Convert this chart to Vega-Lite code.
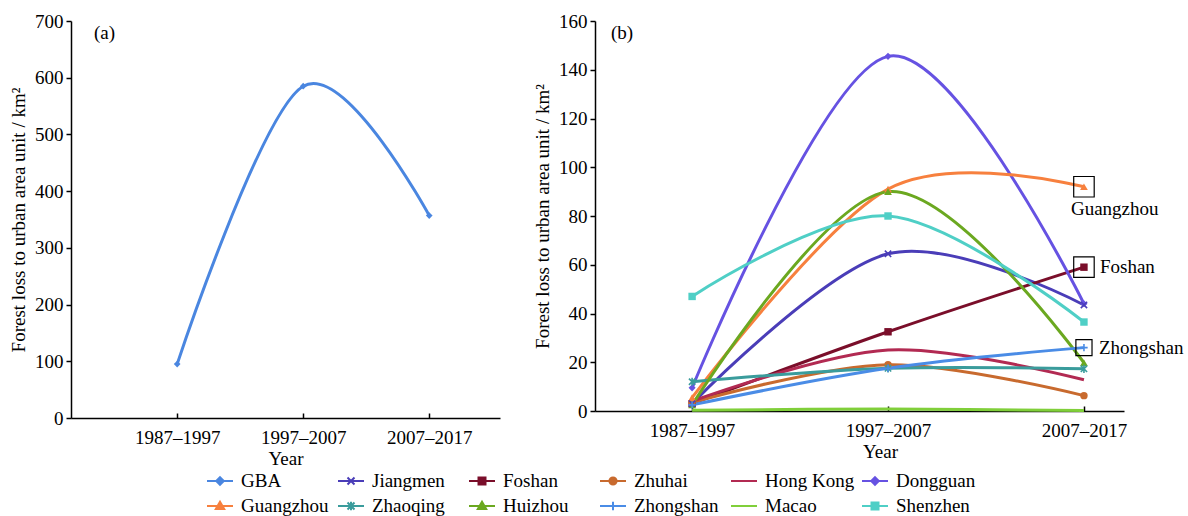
{
  "$schema": "https://vega.github.io/schema/vega-lite/v6.json",
  "background": "white",
  "padding": {"left": 9, "top": 12, "right": 4, "bottom": 4},
  "config": {
    "view": {"stroke": null},
    "font": "Liberation Serif",
    "axis": {
      "grid": false,
      "domainColor": "black",
      "domainWidth": 1.5,
      "tickColor": "black",
      "tickWidth": 1.5,
      "labelColor": "black",
      "titleColor": "black",
      "labelFont": "Liberation Serif",
      "titleFont": "Liberation Serif",
      "labelFontSize": 19,
      "titleFontSize": 19,
      "titleFontWeight": "normal"
    },
    "axisX": {"tickSize": -5, "labelAngle": 0, "labelPadding": 15, "titlePadding": 2},
    "axisY": {"tickSize": 5, "labelPadding": 3, "titlePadding": 6},
    "title": {"font": "Liberation Serif", "fontSize": 19, "fontWeight": "normal", "color": "black", "anchor": "start", "frame": "group", "offset": 0},
    "legend": {
      "orient": "none",
      "legendX": 138,
      "legendY": 449,
      "direction": "horizontal",
      "columns": 6,
      "gridAlign": "all",
      "symbolSize": 400,
      "symbolStrokeWidth": 2,
      "labelFont": "Liberation Serif",
      "labelFontSize": 19,
      "labelColor": "black",
      "labelOffset": 10,
      "columnPadding": 3,
      "rowPadding": 4
    }
  },
  "datasets": {
    "gba": [
      {"city": "GBA", "period": "1987–1997", "value": 95},
      {"city": "GBA", "period": "1997–2007", "value": 585},
      {"city": "GBA", "period": "2007–2017", "value": 357}
    ],
    "cities": [
      {"city": "Jiangmen", "period": "1987–1997", "value": 3},
      {"city": "Jiangmen", "period": "1997–2007", "value": 64.5},
      {"city": "Jiangmen", "period": "2007–2017", "value": 43.5},
      {"city": "Foshan", "period": "1987–1997", "value": 3},
      {"city": "Foshan", "period": "1997–2007", "value": 32.5},
      {"city": "Foshan", "period": "2007–2017", "value": 59},
      {"city": "Zhuhai", "period": "1987–1997", "value": 3.5},
      {"city": "Zhuhai", "period": "1997–2007", "value": 19},
      {"city": "Zhuhai", "period": "2007–2017", "value": 6.3},
      {"city": "Hong Kong", "period": "1987–1997", "value": 4},
      {"city": "Hong Kong", "period": "1997–2007", "value": 25},
      {"city": "Hong Kong", "period": "2007–2017", "value": 12.8},
      {"city": "Dongguan", "period": "1987–1997", "value": 9.5},
      {"city": "Dongguan", "period": "1997–2007", "value": 145.5},
      {"city": "Dongguan", "period": "2007–2017", "value": 44},
      {"city": "Guangzhou", "period": "1987–1997", "value": 5.5},
      {"city": "Guangzhou", "period": "1997–2007", "value": 91},
      {"city": "Guangzhou", "period": "2007–2017", "value": 92},
      {"city": "Zhaoqing", "period": "1987–1997", "value": 12},
      {"city": "Zhaoqing", "period": "1997–2007", "value": 17.5},
      {"city": "Zhaoqing", "period": "2007–2017", "value": 17.3},
      {"city": "Huizhou", "period": "1987–1997", "value": 2.5},
      {"city": "Huizhou", "period": "1997–2007", "value": 90},
      {"city": "Huizhou", "period": "2007–2017", "value": 19.8},
      {"city": "Zhongshan", "period": "1987–1997", "value": 2.5},
      {"city": "Zhongshan", "period": "1997–2007", "value": 17.5},
      {"city": "Zhongshan", "period": "2007–2017", "value": 26},
      {"city": "Macao", "period": "1987–1997", "value": 0.3},
      {"city": "Macao", "period": "1997–2007", "value": 0.8},
      {"city": "Macao", "period": "2007–2017", "value": 0.2},
      {"city": "Shenzhen", "period": "1987–1997", "value": 47},
      {"city": "Shenzhen", "period": "1997–2007", "value": 80},
      {"city": "Shenzhen", "period": "2007–2017", "value": 36.5}
    ]
  },
  "spacing": 33,
  "resolve": {"scale": {"color": "shared", "shape": "shared"}},
  "hconcat": [
    {
      "width": 429,
      "height": 397,
      "title": {"text": "(a)", "dx": 23, "dy": 35},
      "data": {"name": "gba"},
      "encoding": {
        "x": {
          "field": "period",
          "type": "ordinal",
          "scale": {"type": "point", "domain": ["1987–1997", "1997–2007", "2007–2017"], "padding": 0.702, "align": 0.6},
          "axis": {"title": "Year"}
        },
        "y": {
          "field": "value",
          "type": "quantitative",
          "scale": {"domain": [0, 700], "nice": false},
          "axis": {"title": "Forest loss to urban area unit / km²", "values": [0, 100, 200, 300, 400, 500, 600, 700]}
        }
      },
      "layer": [
        {
          "mark": {"type": "line", "interpolate": "cardinal", "tension": 0, "strokeWidth": 3},
          "encoding": {
            "color": {"field": "city", "type": "nominal", "title": null,
              "scale": {
                "domain": ["GBA", "Jiangmen", "Foshan", "Zhuhai", "Hong Kong", "Dongguan", "Guangzhou", "Zhaoqing", "Huizhou", "Zhongshan", "Macao", "Shenzhen"],
                "range": ["#4A86E0", "#4A3DB8", "#7A0E2A", "#C86A2E", "#B22A52", "#6652E2", "#F7803E", "#3A9C9C", "#6BA820", "#4A8CE6", "#80CF3A", "#4FCFC6"]
              },
              "legend": {"title": null}
            }
          }
        },
        {
          "mark": {"type": "point", "shape": "diamond", "filled": true, "size": 45, "opacity": 1},
          "encoding": {"color": {"field": "city", "type": "nominal"}}
        },
        {
          "transform": [{"filter": "false"}],
          "mark": {"type": "point", "filled": true, "opacity": 1},
          "encoding": {
            "color": {"field": "city", "type": "nominal"},
            "shape": {"field": "city", "type": "nominal", "title": null,
              "scale": {
                "domain": ["GBA", "Jiangmen", "Foshan", "Zhuhai", "Hong Kong", "Dongguan", "Guangzhou", "Zhaoqing", "Huizhou", "Zhongshan", "Macao", "Shenzhen"],
                "range": [
                  "M-1.3,0L1.3,0M0,-0.38L0.38,0L0,0.38L-0.38,0Z",
                  "M-1.3,0L1.3,0M-0.35,-0.35L0.35,0.35M-0.35,0.35L0.35,-0.35",
                  "M-1.3,0L1.3,0M-0.35,-0.35L0.35,-0.35L0.35,0.35L-0.35,0.35Z",
                  "M-1.3,0L1.3,0M-0.36,0A0.36,0.36,0,1,0,0.36,0A0.36,0.36,0,1,0,-0.36,0Z",
                  "M-1.3,0L1.3,0",
                  "M-1.3,0L1.3,0M0,-0.38L0.38,0L0,0.38L-0.38,0Z",
                  "M-1.3,0L1.3,0M0,-0.42L0.42,0.3L-0.42,0.3Z",
                  "M-1.3,0L1.3,0M-0.35,-0.35L0.35,0.35M-0.35,0.35L0.35,-0.35M0,-0.42L0,0.42",
                  "M-1.3,0L1.3,0M0,-0.42L0.42,0.3L-0.42,0.3Z",
                  "M-1.3,0L1.3,0M0,-0.42L0,0.42",
                  "M-1.3,0L1.3,0",
                  "M-1.3,0L1.3,0M-0.35,-0.35L0.35,-0.35L0.35,0.35L-0.35,0.35Z"
                ]
              },
              "legend": {"title": null}
            }
          }
        }
      ]
    },
    {
      "width": 529,
      "height": 390,
      "title": {"text": "(b)", "dx": 16, "dy": 35},
      "data": {"name": "cities"},
      "encoding": {
        "x": {
          "field": "period",
          "type": "ordinal",
          "scale": {"type": "point", "domain": ["1987–1997", "1997–2007", "2007–2017"], "padding": 0.35, "align": 0.708},
          "axis": {"title": "Year", "titleX": 285}
        },
        "y": {
          "field": "value",
          "type": "quantitative",
          "scale": {"domain": [0, 160], "nice": false},
          "axis": {"title": "Forest loss to urban area unit / km²", "values": [0, 20, 40, 60, 80, 100, 120, 140, 160]}
        }
      },
      "layer": [
        {
          "mark": {"type": "line", "interpolate": "cardinal", "tension": 0, "strokeWidth": 3},
          "encoding": {"color": {"field": "city", "type": "nominal"}}
        },
        {
          "transform": [{"filter": "datum.city === 'Dongguan'"}],
          "mark": {"type": "point", "shape": "diamond", "filled": true, "size": 50, "opacity": 1},
          "encoding": {"color": {"field": "city", "type": "nominal"}}
        },
        {
          "transform": [{"filter": "datum.city === 'Foshan' || datum.city === 'Shenzhen'"}],
          "mark": {"type": "point", "shape": "square", "filled": true, "size": 55, "opacity": 1},
          "encoding": {"color": {"field": "city", "type": "nominal"}}
        },
        {
          "transform": [{"filter": "datum.city === 'Zhuhai'"}],
          "mark": {"type": "point", "shape": "circle", "filled": true, "size": 55, "opacity": 1},
          "encoding": {"color": {"field": "city", "type": "nominal"}}
        },
        {
          "transform": [{"filter": "datum.city === 'Guangzhou' || datum.city === 'Huizhou'"}],
          "mark": {"type": "point", "shape": "triangle-up", "filled": true, "size": 60, "opacity": 1},
          "encoding": {"color": {"field": "city", "type": "nominal"}}
        },
        {
          "transform": [{"filter": "datum.city === 'Jiangmen'"}],
          "mark": {"type": "point", "shape": "M-1,-1L1,1M-1,1L1,-1", "filled": false, "size": 40, "strokeWidth": 1.6, "opacity": 1},
          "encoding": {"color": {"field": "city", "type": "nominal"}}
        },
        {
          "transform": [{"filter": "datum.city === 'Zhaoqing'"}],
          "mark": {"type": "point", "shape": "M-1,-1L1,1M-1,1L1,-1M0,-1.3L0,1.3", "filled": false, "size": 40, "strokeWidth": 1.6, "opacity": 1},
          "encoding": {"color": {"field": "city", "type": "nominal"}}
        },
        {
          "transform": [{"filter": "datum.city === 'Zhongshan'"}],
          "mark": {"type": "point", "shape": "M-1.1,0L1.1,0M0,-1.1L0,1.1", "filled": false, "size": 45, "strokeWidth": 1.6, "opacity": 1},
          "encoding": {"color": {"field": "city", "type": "nominal"}}
        },
        {
          "transform": [{"filter": "datum.period === '2007–2017' && (datum.city === 'Guangzhou' || datum.city === 'Foshan')"}],
          "mark": {"type": "point", "shape": "square", "filled": false, "size": 420, "color": "black", "strokeWidth": 1.2, "opacity": 1}
        },
        {
          "transform": [{"filter": "datum.period === '2007–2017' && datum.city === 'Zhongshan'"}],
          "mark": {"type": "point", "shape": "square", "filled": false, "size": 260, "color": "black", "strokeWidth": 1.2, "opacity": 1}
        },
        {
          "transform": [{"filter": "datum.period === '2007–2017' && datum.city === 'Guangzhou'"}],
          "mark": {"type": "text", "font": "Liberation Serif", "fontSize": 19, "align": "left", "baseline": "middle", "color": "black", "dx": -13, "dy": 22},
          "encoding": {"text": {"field": "city"}}
        },
        {
          "transform": [{"filter": "datum.period === '2007–2017' && datum.city === 'Foshan'"}],
          "mark": {"type": "text", "font": "Liberation Serif", "fontSize": 19, "align": "left", "baseline": "middle", "color": "black", "dx": 16, "dy": 0},
          "encoding": {"text": {"field": "city"}}
        },
        {
          "transform": [{"filter": "datum.period === '2007–2017' && datum.city === 'Zhongshan'"}],
          "mark": {"type": "text", "font": "Liberation Serif", "fontSize": 19, "align": "left", "baseline": "middle", "color": "black", "dx": 15, "dy": 0},
          "encoding": {"text": {"field": "city"}}
        }
      ]
    }
  ]
}
